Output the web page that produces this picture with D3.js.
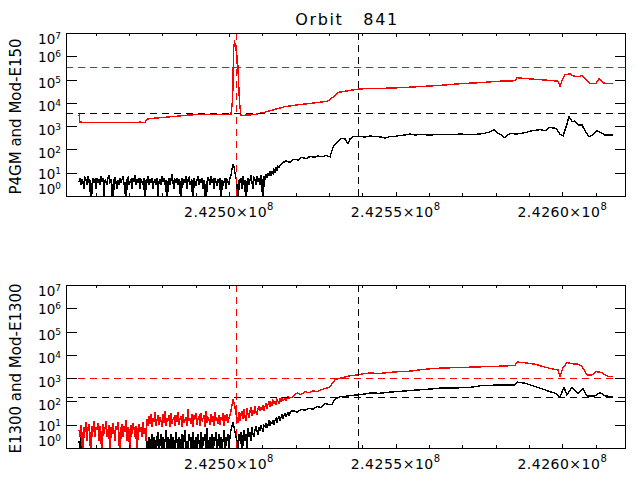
<!DOCTYPE html>
<html><head><meta charset="utf-8">
<script src="https://cdn.jsdelivr.net/npm/d3@7/dist/d3.min.js"></script>
<style>
body{margin:0;background:#fff}
svg{display:block}
text{font-family:"DejaVu Sans",sans-serif;fill:#000}
</style>
</head><body>
<svg id="chart" width="637" height="480"></svg>
<script>
// ---------------- data ----------------
const chartTitle = "Orbit   841";
const T_REF = 242500000;                 // seconds; times below are offsets from this
const xDomain = [242495110, 242511910];
const xMajorTicks = [242500000, 242505000, 242510000];
const xMajorLabels = ["2.4250", "2.4255", "2.4260"];
const xLabelExponent = "8";
const xMinorStep = 1000;
const yExponents = [0, 1, 2, 3, 4, 5, 6, 7];
const yTitles = ["P4GM and Mod-E150", "E1300 and Mod-E1300"];

// noisy segments are sampled every 30 s from T_REF-4500 s
const NOISE_START = -4500, NOISE_STEP = 30;

// top panel, black: P4GM (noisy counts, then trend)
const p4gmNoise = [
  4,6,3,5,4,2,6,5,3,7,4,5,0,3,6,4,5,2,6,4,
  5,3,7,4,6,1,5,4,3,6,8,4,5,3,0,5,6,4,2,5,
  3,6,4,5,7,3,4,0,5,6,3,4,5,2,6,4,8,3,5,4,
  6,2,5,4,3,6,0,5,4,7,3,5,4,6,2,4,5,3,6,1,
  4,5,3,7,4,6,3,5,0,4,6,3,5,9,4,2,5,4,6,3,
  5,4,0,6,3,5,4,7,2,5,6,3,4,5,0,6,4,3,5,7,
  3,5,4,6,2,5,3,0,4,6,5,3,7,4,5,2,6,4,3,5,
  4,6,0,5,3,4,6,2,5,4,3,6,8,14,22,18,10,6,3,0,
  5,4,6,2,7,3,5,0,4,6,3,5,8,4,2,6,5,3,7,4,
  6,3,8,5,0,7,5,9,6,10,7,12,8,11,9,14,10,16,13,19,
  17];
const p4gmT = [1590,1710,1830,1950,2070,2190,2310,2430,2550,2670,2790,2910,3030,3120,3240,3360,3480,3570,3630,3720,
  3930,4080,4230,4380,4530,4680,4830,4980,5130,5280,5430,5580,5730,6030,6330,6630,6930,7230,7530,7680,7830,7950,8070,
  8190,8280,8430,8580,8730,8880,9030,9180,9330,9480,9630,9810,9930,10020,10110,10200,10290,10380,10470,10590,10680,
  10800,10920,11040,11160,11280,11520];
const p4gmV = [26,32,28,38,35,46,40,50,46,52,48,55,48,126,200,302,282,178,282,355,
  363,339,380,355,347,309,355,363,398,417,457,417,437,417,447,427,457,437,457,501,562,708,501,
  398,316,501,457,479,525,603,661,708,631,891,794,447,380,891,2512,1585,1660,1122,1122,631,
  355,417,631,525,417,417];

// top panel, red: Mod-E150
const modE150T = [-4500,-4470,-4320,-3870,-3270,-2670,-2520,-2460,-2370,-2070,-1620,-1170,-870,-420,-120,60,
  111,135,165,195,225,255,285,315,360,480,780,1080,1380,1680,1980,2280,2730,2970,3120,3270,3480,3780,3930,
  4530,5130,5730,6330,6930,7530,8130,8580,8640,9030,9480,9870,9930,9990,10080,10230,10350,10470,10590,10710,
  10830,11010,11100,11250,11430,11520];
const modE150V = [3160,1510,1410,1450,1410,1480,1450,2000,2140,2290,2630,3020,3160,3090,3090,3160,
  15850,2.0e6,4.0e6,3.16e6,1.26e6,7.9e5,1.0e5,1.0e4,2950,2950,3160,3980,5250,6920,7940,8910,10700,12000,17800,28200,31600,37200,39800,
  41700,44700,50100,56200,66100,74100,85100,89100,120000,107000,95500,85100,52500,89100,166000,174000,141000,132000,148000,100000,
  66100,67600,112000,70800,66100,66100];

// bottom panel, black: E1300
const e1300Noise = [
  2,1,3,0,0,0,0,0,0,0,0,0,0,0,0,0,0,0,0,0,
  0,0,1,0,0,0,0,0,0,0,0,0,0,0,0,0,0,0,0,0,
  0,0,0,0,0,0,0,0,0,0,0,0,0,0,1,0,0,0,0,0,
  0,0,0,0,0,0,0,0,
  2,1,3,0,2,4,1,3,2,0,3,5,
  1,2,4,0,3,1,2,6,1,3,0,2,4,1,3,2,0,5,2,1,
  3,0,2,4,1,3,6,0,2,1,4,2,3,0,5,1,2,3,0,4,
  2,1,5,0,3,2,4,1,7,0,2,3,1,4,0,3,2,5,1,2,
  4,0,3,1,2,6,0,3,2,4,1,3,
  6,9,12,8,5,3,2,
  1,4,2,5,0,3,6,2,4,1,7,3,5,2,8,4,3,6,9,5,4,8,6,10,7,5,9,
  8,12,7,10,14,9,13,11,16,10,15,19,13,18,22,16,21,26,19,24,30,23,28,34,26,32,38];
const e1300T = [1920,2040,2160,2280,2400,2520,2640,2760,2880,3000,3090,3180,3330,3480,3630,3870,4080,4230,4530,4830,
  5130,5430,5730,6030,6330,6780,7230,7530,7830,8130,8580,8640,8880,9030,9330,9630,9780,9930,9990,10050,10140,10290,
  10470,10620,10740,10980,11130,11280,11520];
const e1300V = [40,35,45,42,50,46,60,55,85,71,76,126,162,166,178,191,209,229,224,251,
  269,295,316,339,372,380,398,468,490,513,513,676,603,513,372,263,229,155,251,398,191,398,
  214,347,174,174,240,174,158];

// bottom panel, red: Mod-E1300
const modE1300Noise = [
  6,3,10,4,0,8,5,13,2,7,11,4,0,9,5,14,3,8,6,12,
  2,9,5,0,11,4,7,15,3,6,10,0,8,4,12,5,2,9,6,13,
  4,0,7,11,3,9,5,16,2,8,6,0,10,4,12,7,3,9,0,6,
  11,5,8,3,13,4,7,2,
  18,9,24,11,30,8,20,13,35,9,16,26,
  10,22,15,8,28,12,40,9,19,14,25,8,32,11,17,21,9,27,13,36,
  10,18,24,8,30,12,16,22,9,45,14,20,11,28,8,25,17,33,10,19,
  23,9,31,14,18,26,8,38,12,21,16,10,29,13,24,9,35,15,20,11,
  27,10,22,17,33,9,25,14,30,12,19,26,
  40,70,115,90,55,30,20,
  12,35,15,28,40,18,45,22,14,50,30,20,38,55,25,42,30,60,35,26,48,65,38,55,45,70,40,
  60,85,50,75,95,60,90,70,110,80,100,75,120,95,85,130,105,140,110,125,150,115,140,160,130,150,145];
const modE1300T = [1920,2040,2160,2280,2400,2520,2640,2760,2880,3000,3090,3180,3330,3480,3630,3870,4080,4230,4530,4830,
  5130,5430,5730,6030,6330,6780,7230,7830,8280,8580,8640,8880,9180,9480,9690,9870,9930,10020,10140,10290,10470,10590,
  10740,10890,11010,11160,11280,11400,11520];
const modE1300V = [158,229,200,263,240,282,263,316,355,398,562,851,1000,1122,1259,1380,1585,1660,1585,1778,
  1905,1995,2291,2512,2692,2818,2951,3162,3311,3548,4898,4571,3981,2951,2512,2239,1175,2818,4677,4169,3981,3162,
  1380,1380,1905,1778,1413,1175,1148];

// reference lines
const vLineRed = 242500210, vLineBlack = 242503880;
const hLinesTop = {red: 3.5e5, black: 3.5e3};
const hLinesBottom = {red: 1000, black: 155};

// ---------------- drawing ----------------
function build(noise, tArr, vArr) {
  const pts = (noise || []).map((v, i) => ({t: T_REF + NOISE_START + i * NOISE_STEP, v}));
  tArr.forEach((t, i) => pts.push({t: T_REF + t, v: vArr[i]}));
  return pts;
}

const panels = [
  {top: 33, bottom: 196, title: yTitles[0],
   series: [{pts: build(p4gmNoise, p4gmT, p4gmV), color: "#000"},
            {pts: build(null, modE150T, modE150V), color: "#ff0000"}],
   h: hLinesTop},
  {top: 285, bottom: 448, title: yTitles[1],
   series: [{pts: build(e1300Noise, e1300T, e1300V), color: "#000"},
            {pts: build(modE1300Noise, modE1300T, modE1300V), color: "#ff0000"}],
   h: hLinesBottom}
];

const svg = d3.select("#chart");
const L = 66, R = 626;
const x = d3.scaleLinear().domain(xDomain).range([L, R]);

svg.append("text").attr("x", (L + R) / 2 + 1).attr("y", 25).attr("text-anchor", "middle")
  .attr("font-size", 16).attr("letter-spacing", 1.6)
  .attr("xml:space", "preserve").style("white-space", "pre").text(chartTitle);

const labelOffsets = {0: -2, 1: 6, 2: 8.5, 3: 8.5, 4: 8.5, 5: 8.5, 6: 5.5, 7: 11};

panels.forEach((p, pi) => {
  const y = d3.scaleLog().domain([1, 1e7]).range([p.bottom, p.top]);
  const g = svg.append("g");
  const cid = "clip" + pi;
  svg.append("clipPath").attr("id", cid).append("rect")
    .attr("x", L).attr("y", p.top).attr("width", R - L).attr("height", p.bottom - p.top);
  const data = g.append("g").attr("clip-path", `url(#${cid})`);

  const line = d3.line().x(d => x(d.t)).y(d => d.v > 0 ? y(d.v) : p.bottom + 40);
  p.series.forEach(s => {
    data.append("path").datum(s.pts).attr("d", line).attr("fill", "none")
      .attr("stroke", s.color).attr("stroke-width", 1.4).attr("stroke-linejoin", "miter")
      .attr("shape-rendering", "crispEdges");
  });

  const dash = "7,5";
  [[p.h.red, "#ff0000"], [p.h.black, "#000"]].forEach(([v, c]) => {
    data.append("line").attr("x1", L).attr("x2", R).attr("y1", Math.round(y(v)) + 0.5).attr("y2", Math.round(y(v)) + 0.5)
      .attr("stroke", c).attr("stroke-dasharray", dash).attr("stroke-width", 1);
  });
  [[vLineRed, "#ff0000"], [vLineBlack, "#000"]].forEach(([v, c]) => {
    data.append("line").attr("x1", Math.round(x(v)) + 0.5).attr("x2", Math.round(x(v)) + 0.5)
      .attr("y1", p.top).attr("y2", p.bottom)
      .attr("stroke", c).attr("stroke-dasharray", dash).attr("stroke-width", 1);
  });

  // box
  g.append("rect").attr("x", L + 0.5).attr("y", p.top + 0.5).attr("width", R - L - 1).attr("height", p.bottom - p.top)
    .attr("fill", "none").attr("stroke", "#000").attr("stroke-width", 1);

  // x ticks (top and bottom)
  const xt = d3.range(Math.ceil(xDomain[0] / xMinorStep) * xMinorStep, xDomain[1], xMinorStep);
  xt.forEach(t => {
    const major = xMajorTicks.includes(t);
    const len = major ? 4 : 3;
    const xx = Math.round(x(t)) + 0.5;
    g.append("line").attr("x1", xx).attr("x2", xx).attr("y1", p.bottom).attr("y2", p.bottom - len).attr("stroke", "#000");
    g.append("line").attr("x1", xx).attr("x2", xx).attr("y1", p.top).attr("y2", p.top + len).attr("stroke", "#000");
  });
  xMajorTicks.forEach((t, i) => {
    const tx = g.append("text").attr("x", x(t)).attr("y", p.bottom + 21).attr("text-anchor", "middle")
      .attr("font-size", 14).attr("letter-spacing", 0.5);
    tx.append("tspan").text(xMajorLabels[i] + "\u00d710");
    tx.append("tspan").attr("dy", -7).attr("font-size", 10).text(xLabelExponent);
  });

  // y ticks and labels
  yExponents.forEach(e => {
    const yy = Math.round(y(Math.pow(10, e))) + 0.5;
    g.append("line").attr("x1", L).attr("x2", L + 11).attr("y1", yy).attr("y2", yy).attr("stroke", "#000");
    g.append("line").attr("x1", R - 11).attr("x2", R).attr("y1", yy).attr("y2", yy).attr("stroke", "#000");
    const tx = g.append("text").attr("x", 61).attr("y", y(Math.pow(10, e)) + labelOffsets[e])
      .attr("text-anchor", "end").attr("font-size", 13.5);
    tx.append("tspan").text("10");
    tx.append("tspan").attr("dy", -5).attr("font-size", 9).text(String(e));
  });

  g.append("text").attr("transform", `translate(21,${(p.top + p.bottom) / 2 + 2}) rotate(-90)`)
    .attr("text-anchor", "middle").attr("font-size", 15).text(p.title);
});
</script>
</body></html>
